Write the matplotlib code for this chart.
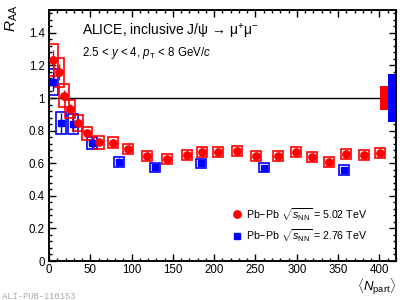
import matplotlib
matplotlib.use("Agg")
import matplotlib.pyplot as plt
from matplotlib.patches import Rectangle
from matplotlib.ticker import MultipleLocator, FuncFormatter

plt.rcParams["font.family"] = ["Liberation Sans", "DejaVu Sans"]
plt.rcParams["mathtext.fontset"] = "custom"
plt.rcParams["mathtext.rm"] = "Liberation Sans"
plt.rcParams["mathtext.it"] = "Liberation Sans:italic"
plt.rcParams["mathtext.bf"] = "Liberation Sans:bold"

# 5.02 TeV (red)
npart_502 = [5.2, 12.5, 18.5, 25.4, 34.7, 46.4, 60.5, 77.1, 96, 118.3, 143.2, 166.7,
             185.6, 205, 227.2, 251, 276.9, 299, 318, 339, 359.2, 381.4, 400.7]
raa_502 = [1.233, 1.158, 1.014, 0.931, 0.845, 0.783, 0.728, 0.727, 0.687, 0.644, 0.626, 0.650,
           0.671, 0.667, 0.675, 0.642, 0.644, 0.667, 0.640, 0.609, 0.656, 0.648, 0.664]
stat_502 = [0.06, 0.05, 0.035, 0.03, 0.025, 0.02, 0.02, 0.015, 0.015, 0.015, 0.015, 0.015,
            0.015, 0.015, 0.015, 0.015, 0.015, 0.015, 0.015, 0.015, 0.015, 0.015, 0.015]
syst_502 = [0.10, 0.09, 0.07, 0.055, 0.05, 0.04, 0.039, 0.032, 0.03, 0.03, 0.03, 0.03,
            0.03, 0.03, 0.03, 0.03, 0.03, 0.03, 0.03, 0.03, 0.03, 0.03, 0.03]

# 2.76 TeV (blue)
npart_276 = [5.2, 14.5, 29.4, 52.4, 84.7, 128.3, 184, 260, 357]
raa_276 = [1.10, 0.848, 0.840, 0.722, 0.609, 0.575, 0.600, 0.572, 0.558]
stat_276 = [0.06, 0.06, 0.05, 0.03, 0.02, 0.015, 0.015, 0.015, 0.015]
syst_276 = [0.08, 0.066, 0.06, 0.037, 0.03, 0.028, 0.028, 0.028, 0.028]

# global (correlated) uncertainties drawn at R_AA = 1
global_unc = [0.074, 0.15]
global_x = [(401, 411), (411, 420)]

RED = "#ff0000"
BLUE = "#0000ff"
box_hw = 6.0

fig = plt.figure(figsize=(4.09, 3.0), dpi=100)
ax = fig.add_axes([0.1198, 0.13, 0.8482, 0.8367])

ax.axhline(1.0, color="black", lw=1.0, zorder=1)

for (x0, x1), g, c in zip(global_x, global_unc, [RED, BLUE]):
    ax.add_patch(Rectangle((x0, 1 - g), x1 - x0, 2 * g, facecolor=c, edgecolor="none", zorder=2))

for xs, ys, st, sy, c, m, ms in [
    (npart_276, raa_276, stat_276, syst_276, BLUE, "s", 4.3),
    (npart_502, raa_502, stat_502, syst_502, RED, "o", 5.3),
]:
    for x, y, s in zip(xs, ys, sy):
        ax.add_patch(Rectangle((x - box_hw, y - s), 2 * box_hw, 2 * s, fill=False,
                               edgecolor=c, lw=1.2, zorder=3))
    ax.errorbar(xs, ys, yerr=st, fmt=m, color=c, ms=ms, lw=1.0, capsize=0, zorder=4)

ax.set_xlim(0, 420)
ax.set_ylim(0, 1.54)

ax.xaxis.set_major_locator(MultipleLocator(50))
ax.xaxis.set_minor_locator(MultipleLocator(10))
ax.yaxis.set_major_locator(MultipleLocator(0.2))
ax.yaxis.set_minor_locator(MultipleLocator(0.04))
fmt = FuncFormatter(lambda v, p: f"{v:g}")
ax.xaxis.set_major_formatter(fmt)
ax.yaxis.set_major_formatter(fmt)
ax.tick_params(which="both", direction="in", top=True, right=True, labelsize=8.3, width=1.0)
ax.tick_params(which="major", length=5)
ax.tick_params(which="minor", length=2.5)
ax.tick_params(axis="x", pad=2)
ax.tick_params(axis="y", pad=3)
for sp in ax.spines.values():
    sp.set_linewidth(1.4)

ax.text(0.094, 0.914, "ALICE, inclusive J/ψ → μ$^{+}$μ$^{-}$", transform=ax.transAxes,
        fontsize=10, va="center", ha="left")
ax.text(0.094, 0.829, r"2.5 < $y$ < 4, $p_{\mathrm{T}}$ < 8 GeV/$c$", transform=ax.transAxes,
        fontsize=8.3, va="center", ha="left")

# legend
ax.plot([0.541], [0.186], "o", color=RED, ms=5.3, transform=ax.transAxes, clip_on=False)
ax.plot([0.543], [0.0996], "s", color=BLUE, ms=4.3, transform=ax.transAxes, clip_on=False)
ax.text(0.568, 0.186, r"Pb$-$Pb $\sqrt{s_{\mathrm{NN}}}$ = 5.02 TeV", transform=ax.transAxes,
        fontsize=7.7, va="center", ha="left")
ax.text(0.568, 0.0996, r"Pb$-$Pb $\sqrt{s_{\mathrm{NN}}}$ = 2.76 TeV", transform=ax.transAxes,
        fontsize=7.7, va="center", ha="left")

ax.text(1.0, -0.062, r"$\langle N_{\mathrm{part}}\rangle$", transform=ax.transAxes,
        fontsize=9.5, va="top", ha="right")
fig.text(0.03, 0.985, r"$R_{\mathrm{AA}}$", rotation=90, fontsize=11, va="top", ha="center")

fig.text(0.005, 0.013, "ALI-PUB-110153", family="Liberation Mono", fontsize=6.3,
         color="#aaaaaa", va="center", ha="left")

fig.savefig("out.png", dpi=100)
